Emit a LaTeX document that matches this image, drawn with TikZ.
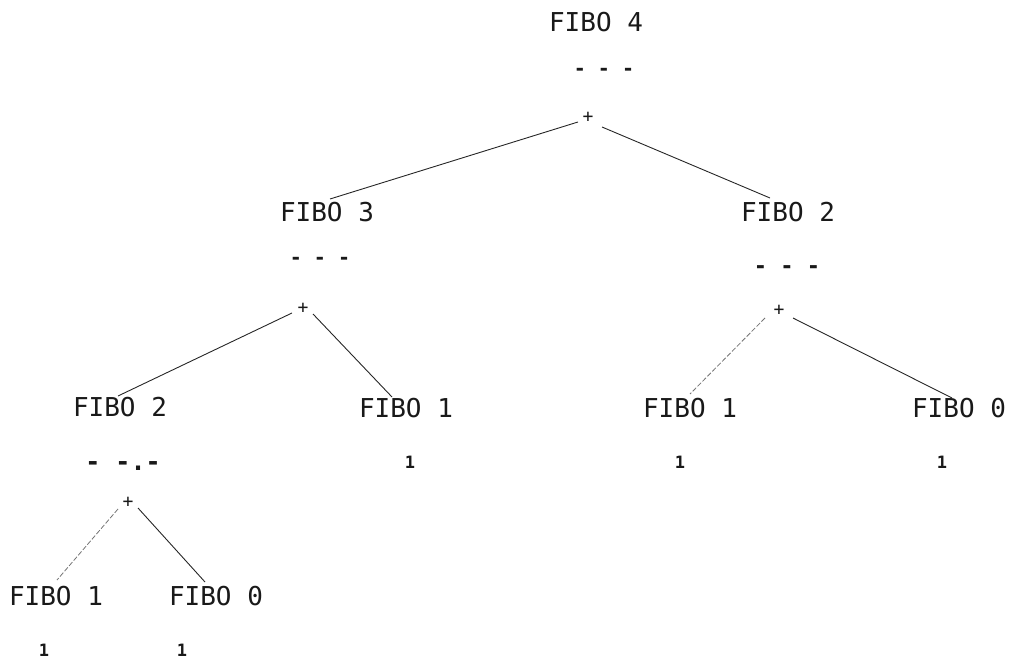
\documentclass[tikz,border=0pt]{standalone}
\usepackage{fontspec}
\newfontfamily\plotfont{DejaVu Sans Mono}
\begin{document}
\begin{tikzpicture}[x=1pt,y=-1pt,
  fibo/.style={inner sep=0pt,font=\plotfont\fontsize{26}{26}\selectfont,text=black!90},
  bar/.style={inner sep=0pt,font=\plotfont\bfseries\fontsize{20}{20}\selectfont,text=black!90},
  plus/.style={inner sep=0pt,font=\plotfont\fontsize{18}{18}\selectfont,text=black!90},
  val/.style={inner sep=0pt,font=\plotfont\bfseries\fontsize{17}{17}\selectfont,text=black!90},
  edge/.style={line width=0.9pt,black!85},
  faint/.style={line width=0.8pt,black!55,dash pattern=on 5pt off 2pt}]
\useasboundingbox (0,0) rectangle (1010,660);
% row 1
\node[fibo] (f4) at (596,22) {FIBO 4};
\node[bar] (b4) at (604,72) {- - -};
\node[plus] (p4) at (588,117) {+};
% row 2
\node[fibo] (f3) at (327,212) {FIBO 3};
\node[bar] (b3) at (320,261) {- - -};
\node[plus] (p3) at (303,308) {+};
\node[fibo] (f2r) at (788,212) {FIBO 2};
\node[bar,font=\plotfont\bfseries\fontsize{22}{22}\selectfont] (b2r) at (787,270) {- - -};
\node[plus] (p2r) at (779,310) {+};
% row 3
\node[fibo] (f2l) at (120,407) {FIBO 2};
\node[bar,font=\plotfont\bfseries\fontsize{25}{25}\selectfont] (b2l) at (123,466) {- -.-};
\node[plus] (p2l) at (128,502) {+};
\node[fibo] (f1m) at (406,408) {FIBO 1};
\node[val] (v1m) at (410,462) {1};
\node[fibo] (f1r) at (690,408) {FIBO 1};
\node[val] (v1r) at (680,462) {1};
\node[fibo] (f0r) at (959,408) {FIBO 0};
\node[val] (v0r) at (942,462) {1};
% row 4
\node[fibo] (f1b) at (56,596) {FIBO 1};
\node[val] (v1b) at (44,650) {1};
\node[fibo] (f0b) at (216,596) {FIBO 0};
\node[val] (v0b) at (182,650) {1};
% connectors
\draw[edge] ([shift={(-10,5)}]p4.center) -- ([shift={(3,-13)}]f3.center);
\draw[edge] ([shift={(14,10)}]p4.center) -- ([shift={(-18,-14)}]f2r.center);
\draw[edge] ([shift={(-11,5)}]p3.center) -- ([shift={(-2,-11)}]f2l.center);
\draw[edge] ([shift={(10,6)}]p3.center) -- ([shift={(-14,-11)}]f1m.center);
\draw[faint] ([shift={(-14,8)}]p2r.center) -- ([shift={(0,-14)}]f1r.center);
\draw[edge] ([shift={(14,8)}]p2r.center) -- ([shift={(-7,-10)}]f0r.center);
\draw[faint] ([shift={(-10,7)}]p2l.center) -- ([shift={(1,-16)}]f1b.center);
\draw[edge] ([shift={(10,6)}]p2l.center) -- ([shift={(-11,-14)}]f0b.center);
\end{tikzpicture}
\end{document}
